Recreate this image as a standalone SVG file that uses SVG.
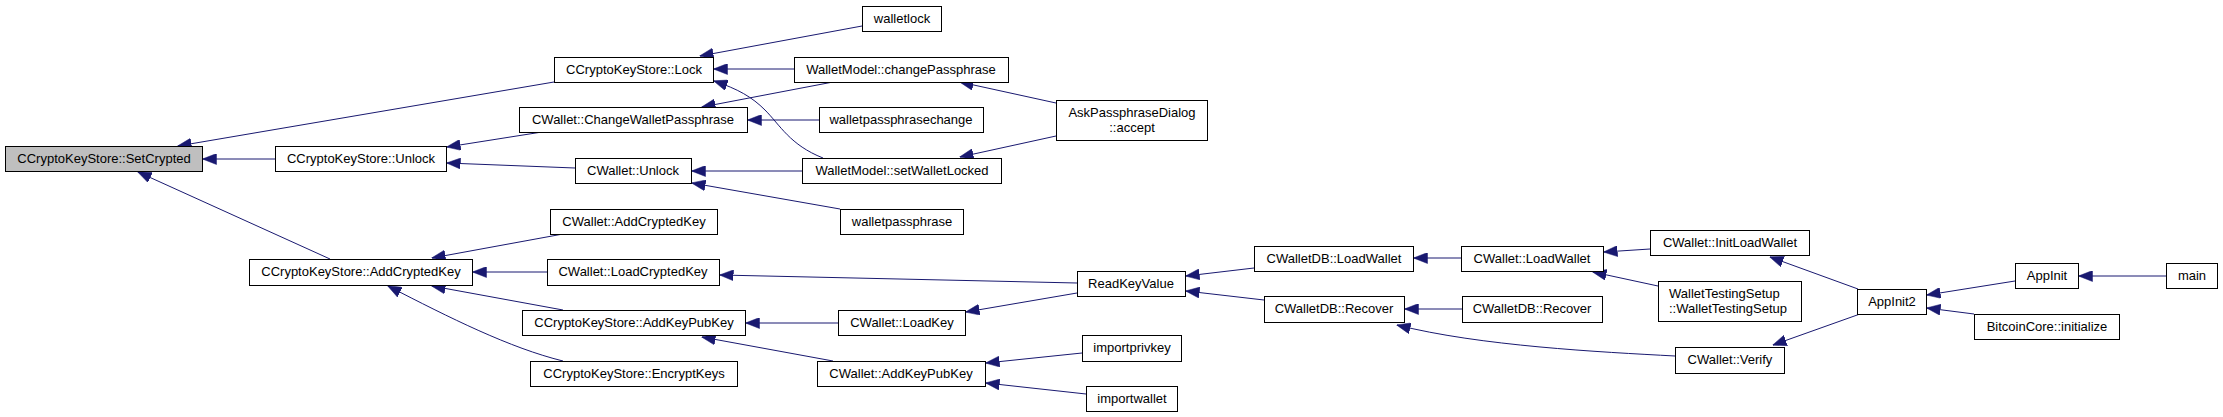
<svg xmlns="http://www.w3.org/2000/svg" width="2223" height="417" viewBox="0 0 2223 417">
<style>
.n rect{fill:#fff;stroke:#000;stroke-width:1}
.n.hl rect{fill:#bfbfbf}
.n text{font-family:"Liberation Sans",Arial,sans-serif;font-size:13px;fill:#000;text-anchor:middle}
.e path{fill:none;stroke:#191970;stroke-width:1;marker-end:url(#ah)}
</style>
<defs>
<marker id="ah" markerUnits="userSpaceOnUse" markerWidth="14" markerHeight="11" refX="13.5" refY="5.5" orient="auto">
<path d="M0,0 L14,5.5 L0,11 z" fill="#191970" stroke="#191970" stroke-width="0.5"/>
</marker>
</defs>
<rect width="2223" height="417" fill="#fff"/>
<g id="edges" class="e">
<path d="M554,82 L178,146"/>
<path d="M275,159 L203,159"/>
<path d="M330,259 L138,172"/>
<path d="M542,132 L447,147"/>
<path d="M575,168 L447,163"/>
<path d="M862,26 L700,56"/>
<path d="M794,69 L714,69"/>
<path d="M823,158 C790,145 780,125 765,110 C752,97 738,89 714,81"/>
<path d="M833,82 L702,107"/>
<path d="M819,120 L748,120"/>
<path d="M802,171 L692,171"/>
<path d="M840,209 L692,183"/>
<path d="M1056,103 L960,82"/>
<path d="M1056,136 L960,157"/>
<path d="M563,234 L432,258"/>
<path d="M547,272 L473,272"/>
<path d="M563,310 L432,286"/>
<path d="M563,361 C510,348 450,318 388,286"/>
<path d="M1077,283 L720,275"/>
<path d="M838,323 L746,323"/>
<path d="M833,361 L702,337"/>
<path d="M1077,293 L966,312"/>
<path d="M1082,353 L986,363"/>
<path d="M1086,394 L986,383"/>
<path d="M1254,268 L1186,276"/>
<path d="M1264,300 L1186,291"/>
<path d="M1461,258 L1414,258"/>
<path d="M1462,309 L1405,309"/>
<path d="M1650,249 L1604,252"/>
<path d="M1658,286 L1593,272"/>
<path d="M1675,356 C1600,352 1480,346 1397,325"/>
<path d="M1858,289 L1770,257"/>
<path d="M1860,314 L1773,345"/>
<path d="M2015,281 L1927,295"/>
<path d="M1974,314 L1927,308"/>
<path d="M2166,276 L2079,276"/>
</g>
<g id="n0" class="n hl"><rect x="5.5" y="146.5" width="197" height="25"/><text x="104" y="163">CCryptoKeyStore::SetCrypted</text></g>
<g id="n1" class="n"><rect x="554.5" y="57.5" width="159" height="25"/><text x="634" y="74">CCryptoKeyStore::Lock</text></g>
<g id="n2" class="n"><rect x="275.5" y="146.5" width="171" height="25"/><text x="361" y="163">CCryptoKeyStore::Unlock</text></g>
<g id="n3" class="n"><rect x="249.5" y="259.5" width="223" height="26"/><text x="361" y="276">CCryptoKeyStore::AddCryptedKey</text></g>
<g id="n4" class="n"><rect x="862.5" y="6.5" width="79" height="25"/><text x="902" y="23">walletlock</text></g>
<g id="n5" class="n"><rect x="794.5" y="57.5" width="214" height="25"/><text x="901" y="74">WalletModel::changePassphrase</text></g>
<g id="n6" class="n"><rect x="802.5" y="158.5" width="199" height="25"/><text x="902" y="175">WalletModel::setWalletLocked</text></g>
<g id="n7" class="n"><rect x="1056.5" y="100.5" width="151" height="40"/><text x="1132" y="117">AskPassphraseDialog</text><text x="1132" y="132">::accept</text></g>
<g id="n8" class="n"><rect x="519.5" y="107.5" width="228" height="25"/><text x="633" y="124">CWallet::ChangeWalletPassphrase</text></g>
<g id="n9" class="n"><rect x="819.5" y="107.5" width="164" height="25"/><text x="901" y="124">walletpassphrasechange</text></g>
<g id="n10" class="n"><rect x="575.5" y="158.5" width="116" height="25"/><text x="633" y="175">CWallet::Unlock</text></g>
<g id="n11" class="n"><rect x="840.5" y="209.5" width="123" height="25"/><text x="902" y="226">walletpassphrase</text></g>
<g id="n12" class="n"><rect x="550.5" y="209.5" width="167" height="25"/><text x="634" y="226">CWallet::AddCryptedKey</text></g>
<g id="n13" class="n"><rect x="547.5" y="259.5" width="172" height="26"/><text x="633" y="276">CWallet::LoadCryptedKey</text></g>
<g id="n14" class="n"><rect x="1077.5" y="271.5" width="108" height="25"/><text x="1131" y="288">ReadKeyValue</text></g>
<g id="n15" class="n"><rect x="1254.5" y="246.5" width="159" height="25"/><text x="1334" y="263">CWalletDB::LoadWallet</text></g>
<g id="n16" class="n"><rect x="1264.5" y="296.5" width="140" height="26"/><text x="1334" y="313">CWalletDB::Recover</text></g>
<g id="n17" class="n"><rect x="1461.5" y="246.5" width="142" height="25"/><text x="1532" y="263">CWallet::LoadWallet</text></g>
<g id="n18" class="n"><rect x="1462.5" y="296.5" width="140" height="26"/><text x="1532" y="313">CWalletDB::Recover</text></g>
<g id="n19" class="n"><rect x="1650.5" y="230.5" width="159" height="25"/><text x="1730" y="247">CWallet::InitLoadWallet</text></g>
<g id="n20" class="n"><rect x="1658.5" y="281.5" width="143" height="40"/><text x="1669" y="298" style="text-anchor:start">WalletTestingSetup</text><text x="1669" y="313" style="text-anchor:start">::WalletTestingSetup</text></g>
<g id="n21" class="n"><rect x="1675.5" y="347.5" width="109" height="26"/><text x="1730" y="364">CWallet::Verify</text></g>
<g id="n22" class="n"><rect x="1857.5" y="289.5" width="69" height="25"/><text x="1892" y="306">AppInit2</text></g>
<g id="n23" class="n"><rect x="2015.5" y="263.5" width="63" height="25"/><text x="2047" y="280">AppInit</text></g>
<g id="n24" class="n"><rect x="2166.5" y="263.5" width="51" height="25"/><text x="2192" y="280">main</text></g>
<g id="n25" class="n"><rect x="1974.5" y="314.5" width="145" height="25"/><text x="2047" y="331">BitcoinCore::initialize</text></g>
<g id="n26" class="n"><rect x="522.5" y="310.5" width="223" height="25"/><text x="634" y="327">CCryptoKeyStore::AddKeyPubKey</text></g>
<g id="n27" class="n"><rect x="530.5" y="361.5" width="207" height="25"/><text x="634" y="378">CCryptoKeyStore::EncryptKeys</text></g>
<g id="n28" class="n"><rect x="838.5" y="310.5" width="127" height="25"/><text x="902" y="327">CWallet::LoadKey</text></g>
<g id="n29" class="n"><rect x="817.5" y="361.5" width="168" height="25"/><text x="901" y="378">CWallet::AddKeyPubKey</text></g>
<g id="n30" class="n"><rect x="1082.5" y="335.5" width="99" height="26"/><text x="1132" y="352">importprivkey</text></g>
<g id="n31" class="n"><rect x="1086.5" y="386.5" width="91" height="25"/><text x="1132" y="403">importwallet</text></g>
</svg>
